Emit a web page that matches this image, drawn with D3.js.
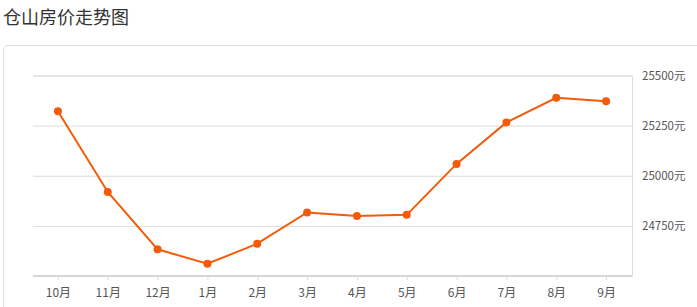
<!DOCTYPE html>
<html lang="zh">
<head>
  <meta charset="utf-8">
  <title>仓山房价走势图</title>
  <script src="https://d3js.org/d3.v7.js"></script>
  <style>
    body { margin: 0; background: #fff; font-family: "Noto Sans CJK SC", "Noto Sans", sans-serif; }
    .title { position: absolute; left: 3px; top: 3px; font-size: 18px; line-height: 26px; color: #333; }
    .card { position: absolute; left: 3px; top: 45px; width: 720px; height: 300px;
            border: 1px solid #ddd; border-radius: 5px; box-sizing: border-box; }
    svg { position: absolute; left: 0; top: 0; }
  </style>
</head>
<body>
  <div class="title">仓山房价走势图</div>
  <div class="card"></div>
  <div id="chart"></div>

  <script>
    // months and prices (元/㎡)
    var months = ["10月", "11月", "12月", "1月", "2月", "3月", "4月", "5月", "6月", "7月", "8月", "9月"];
    var prices = [25322, 24919, 24633, 24561, 24661, 24817, 24799, 24805, 25059, 25266, 25389, 25372];
    var yTicks = [24750, 25000, 25250, 25500];

    var data = months.map(function(m, i) { return {month: m, price: prices[i]}; });

    var width = 697, height = 307;
    var plotLeft = 33, plotRight = 632, plotTop = 75.5, plotBottom = 276;

    var svg = d3.select("#chart")
      .append("svg")
      .attr("width", width)
      .attr("height", height);

    var x = d3.scalePoint()
      .domain(months)
      .range([plotLeft, plotRight - 1])
      .padding(0.5);

    var y = d3.scaleLinear()
      .domain([24500, 25500])
      .range([plotBottom, plotTop]);

    // grid lines + right axis labels
    var yAxis = svg.append("g")
      .attr("transform", "translate(" + plotRight + ",0)")
      .call(d3.axisRight(y).tickValues(yTicks).tickSize(-(plotRight - plotLeft)).tickPadding(10)
        .tickFormat(function(d) { return d + "元"; }));
    yAxis.select(".domain").attr("stroke", "#ddd");
    yAxis.selectAll(".tick line").attr("stroke", "#ddd");
    yAxis.selectAll(".tick text")
      .attr("fill", "#555")
      .attr("font-size", 11.5)
      .attr("font-family", "'Noto Sans CJK SC', sans-serif");

    // bottom axis
    var xAxis = svg.append("g")
      .attr("transform", "translate(0," + plotBottom + ")")
      .call(d3.axisBottom(x).tickSize(4).tickPadding(8).tickSizeOuter(0));
    xAxis.select(".domain").attr("stroke", "#d6d6d6").attr("stroke-width", 2)
      .attr("d", "M" + plotLeft + ",0H" + plotRight);
    xAxis.selectAll(".tick line").attr("stroke", "#ddd");
    xAxis.selectAll(".tick text")
      .attr("fill", "#555")
      .attr("font-size", 12)
      .attr("font-family", "'Noto Sans CJK SC', sans-serif");

    // line
    var line = d3.line()
      .x(function(d) { return x(d.month); })
      .y(function(d) { return y(d.price); });

    svg.append("path")
      .datum(data)
      .attr("fill", "none")
      .attr("stroke", "#f35b0b")
      .attr("stroke-width", 2)
      .attr("d", line);

    svg.selectAll("circle")
      .data(data)
      .enter()
      .append("circle")
      .attr("cx", function(d) { return x(d.month); })
      .attr("cy", function(d) { return y(d.price); })
      .attr("r", 4)
      .attr("fill", "#f55a08");
  </script>
</body>
</html>
